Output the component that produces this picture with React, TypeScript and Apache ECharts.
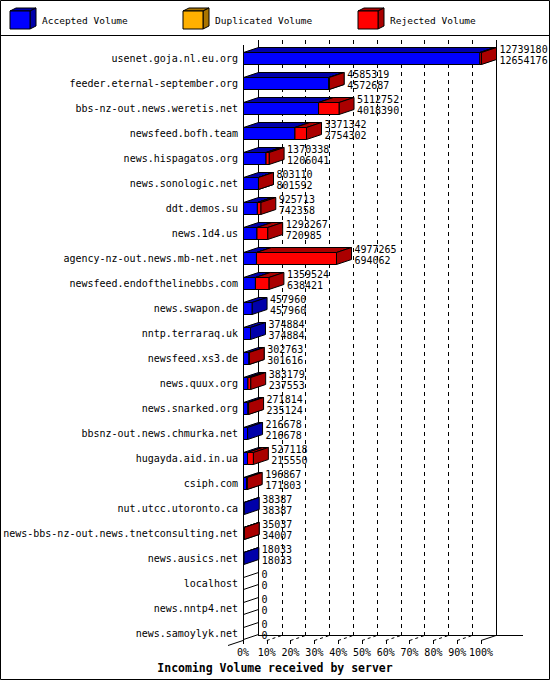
import { useRef, useEffect } from "react";
import * as echarts from "echarts";

const HOSTS = [
  "usenet.goja.nl.eu.org",
  "feeder.eternal-september.org",
  "bbs-nz-out.news.weretis.net",
  "newsfeed.bofh.team",
  "news.hispagatos.org",
  "news.sonologic.net",
  "ddt.demos.su",
  "news.1d4.us",
  "agency-nz-out.news.mb-net.net",
  "newsfeed.endofthelinebbs.com",
  "news.swapon.de",
  "nntp.terraraq.uk",
  "newsfeed.xs3.de",
  "news.quux.org",
  "news.snarked.org",
  "bbsnz-out.news.chmurka.net",
  "hugayda.aid.in.ua",
  "csiph.com",
  "nut.utcc.utoronto.ca",
  "news-bbs-nz-out.news.tnetconsulting.net",
  "news.ausics.net",
  "localhost",
  "news.nntp4.net",
  "news.samoylyk.net",
];
const TOTAL = [
  12739180, 4585319, 5112752, 3371342, 1370338, 803110, 925713, 1293267, 4977265, 1359524,
  457960, 374884, 302763, 383179, 271814, 216678, 527118, 196867, 38387, 35037, 18033, 0, 0, 0,
];
const ACCEPTED = [
  12654176, 4572687, 4018390, 2754302, 1206041, 801592, 742358, 720985, 694062, 638421,
  457960, 374884, 301616, 237553, 235124, 216678, 215550, 171803, 38387, 34007, 18033, 0, 0, 0,
];
const TICK_LABELS = ["0%", "10%", "20%", "30%", "40%", "50%", "60%", "70%", "80%", "90%", "100%"];
const LEGEND = ["Accepted Volume", "Duplicated Volume", "Rejected Volume"];
const LEGEND_FRONT = ["#0000ff", "#ffb000", "#ff0000"];
const LEGEND_DARK = ["#0000aa", "#aa7500", "#aa0000"];
const X_TITLE = "Incoming Volume received by server";

const FONT = "'DejaVu Sans Mono', 'Liberation Mono', monospace";
const BLUE = "#0000ff", DARK_BLUE = "#0000aa", RED = "#ff0000", DARK_RED = "#aa0000";

// layout (pixels)
const X0 = 243, X1 = 481, DX = 15, DY = 5, FLOOR = 640, TOP = 45, BAR_H = 12;
const MAX = Math.max(...TOTAL);

export default function App() {
  const chartRef = useRef<HTMLDivElement>(null);
  useEffect(() => {
    document.body.style.margin = "0";
    if (!chartRef.current) return;
    const chart = echarts.init(chartRef.current, null, { renderer: "svg" });

    const data = HOSTS.map((_, i) => [i, TOTAL[i], ACCEPTED[i]]);
    const line = (x1: number, y1: number, x2: number, y2: number, dash?: number[]) => ({
      type: "line", shape: { x1, y1, x2, y2 }, silent: true,
      style: { stroke: "#000", lineWidth: 1, lineDash: dash },
    });
    const legendEls: any[] = [];
    const legendX = [10, 183, 358];
    LEGEND.forEach((name, k) => {
      const x = legendX[k], y = 11, w = 20, h = 18, dx = 6, dy = 3;
      legendEls.push(
        { type: "polygon", shape: { points: [[x, y], [x + w, y], [x + w + dx, y - dy], [x + dx, y - dy]] }, style: { fill: LEGEND_DARK[k], stroke: "#000", lineWidth: 1 } },
        { type: "polygon", shape: { points: [[x + w, y], [x + w + dx, y - dy], [x + w + dx, y + h - dy], [x + w, y + h]] }, style: { fill: LEGEND_DARK[k], stroke: "#000", lineWidth: 1 } },
        { type: "rect", shape: { x, y, width: w, height: h }, style: { fill: LEGEND_FRONT[k], stroke: "#000", lineWidth: 1 } },
        { type: "text", x: x + 32, y: y + 9, style: { text: name, font: `9.5px ${FONT}`, fill: "#000", verticalAlign: "middle" } },
      );
    });
    // dashed floor lines from each front tick to the back wall
    const floorEls: any[] = [];
    const step = (X1 - X0) / 10;
    for (let k = 1; k < 10; k++) {
      const x = X0 + k * step;
      floorEls.push(line(x, FLOOR + 0.5, x + DX, FLOOR - DY + 0.5, [3, 3]));
    }

    const option: any = {
      animation: false,
      backgroundColor: "#fff",
      textStyle: { fontFamily: FONT },
      title: {
        text: X_TITLE, left: "center", top: 657,
        textStyle: { fontFamily: FONT, fontSize: 11.5, fontWeight: "bold", color: "#000" },
      },
      grid: [
        { left: X0, right: 550 - X1, top: FLOOR - 600, height: 600 },
        { left: X0 + DX, right: 550 - X1 - DX, top: TOP - DY, height: FLOOR - TOP },
      ],
      xAxis: [
        {
          gridIndex: 0, type: "value", min: 0, max: MAX, interval: MAX / 10,
          axisLine: { show: false },
          axisTick: { show: true, length: 4, lineStyle: { color: "#000" } },
          axisLabel: {
            color: "#000", fontSize: 10, fontFamily: FONT, margin: 7,
            formatter: (_v: number, idx: number) => TICK_LABELS[idx],
          },
          splitLine: { show: false },
        },
        {
          gridIndex: 1, type: "value", min: 0, max: MAX, interval: MAX / 10,
          axisLine: { show: false }, axisTick: { show: false }, axisLabel: { show: false },
          splitLine: { show: true, showMinLine: false, showMaxLine: false, lineStyle: { color: "#000", type: [4, 4], width: 1 } },
        },
      ],
      yAxis: [
        {
          gridIndex: 0, type: "category", data: HOSTS, inverse: true,
          axisLine: { show: false }, axisTick: { show: false }, splitLine: { show: false },
          axisLabel: { color: "#000", fontSize: 10, fontFamily: FONT, margin: 5, verticalAlign: "top", lineHeight: 11, interval: 0 },
        },
        { gridIndex: 1, type: "value", show: false },
      ],
      graphic: [
        { type: "rect", shape: { x: 0.5, y: 0.5, width: 549, height: 679 }, style: { fill: "none", stroke: "#000", lineWidth: 1 }, silent: true },
        line(0, 35.5, 550, 35.5),
        line(X0 + 0.5, TOP, X0 + 0.5, FLOOR),
        line(X0 + DX + 0.5, TOP - DY, X0 + DX + 0.5, FLOOR - DY),
        line(X1 + DX + 0.5, TOP - DY, X1 + DX + 0.5, FLOOR - DY),
        line(X0 + DX, FLOOR - DY + 0.5, X1 + DX + 27, FLOOR - DY + 0.5),
        line(X1, FLOOR + 0.5, X1 + DX, FLOOR - DY + 0.5),
        line(X0 - DX, FLOOR + DY + 0.5, X0, FLOOR + 0.5),
        ...floorEls,
        ...legendEls,
      ],
      series: [
        {
          type: "custom",
          coordinateSystem: "cartesian2d",
          xAxisIndex: 0,
          yAxisIndex: 0,
          clip: false,
          encode: { x: 1, y: 0 },
          data,
          renderItem: (_params: any, api: any) => {
            const i = api.value(0), total = api.value(1), acc = api.value(2);
            const p0 = api.coord([0, i]);
            const xs = p0[0] + 0.5;
            const xa = api.coord([acc, i])[0] + 0.5;
            const xt = api.coord([total, i])[0] + 0.5;
            const band = api.size([0, 1])[1];
            const yb = Math.round(p0[1] + band / 2) - 0.5;
            const yf = yb - BAR_H;
            const kids: any[] = [];
            const box = (a: number, b: number, front: string, dark: string) => {
              kids.push(
                { type: "polygon", shape: { points: [[a, yf], [b, yf], [b + DX, yf - DY], [a + DX, yf - DY]] }, style: { fill: dark, stroke: "#000", lineWidth: 1 } },
                { type: "polygon", shape: { points: [[b, yf], [b + DX, yf - DY], [b + DX, yb - DY], [b, yb]] }, style: { fill: dark, stroke: "#000", lineWidth: 1 } },
                { type: "rect", shape: { x: a, y: yf, width: b - a, height: BAR_H }, style: { fill: front, stroke: "#000", lineWidth: 1 } },
              );
            };
            if (total === 0) {
              kids.push({ type: "polygon", shape: { points: [[xs, yf], [xs + DX, yf - DY], [xs + DX, yb - DY], [xs, yb]] }, style: { fill: "none", stroke: "#000", lineWidth: 1 } });
            } else {
              box(xs, xa, BLUE, DARK_BLUE);
              if (total > acc) box(xa, xt, RED, DARK_RED);
            }
            const c = yb - BAR_H / 2;
            const tx = xt + DX + 3;
            kids.push(
              { type: "text", x: tx, y: c - 9.5, style: { text: String(total), font: `10px ${FONT}`, fill: "#000", verticalAlign: "middle" } },
              { type: "text", x: tx, y: c + 1.5, style: { text: String(acc), font: `10px ${FONT}`, fill: "#000", verticalAlign: "middle" } },
            );
            return { type: "group", children: kids };
          },
        },
      ],
    };
    chart.setOption(option);
    return () => chart.dispose();
  }, []);
  return <div ref={chartRef} style={{ width: 550, height: 680 }} />;
}
